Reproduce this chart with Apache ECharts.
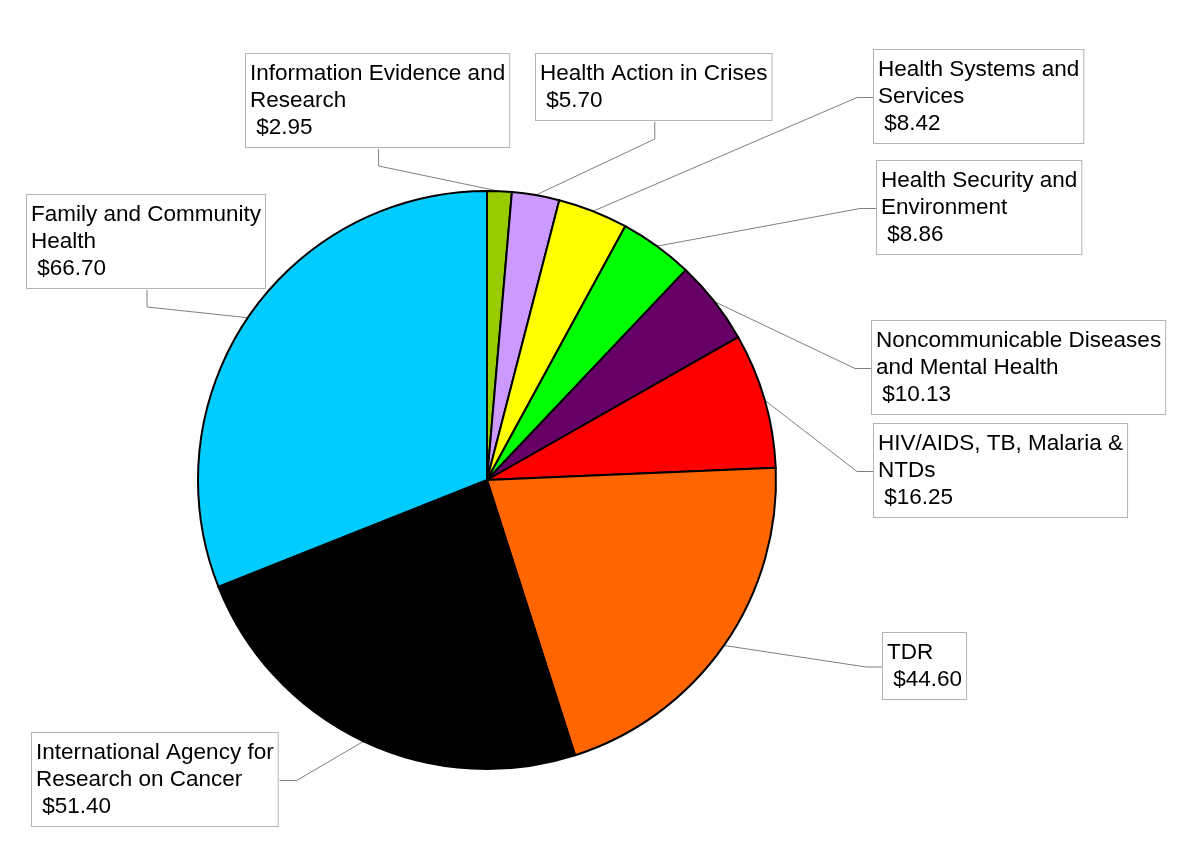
<!DOCTYPE html>
<html>
<head>
<meta charset="utf-8">
<script src="https://cdn.jsdelivr.net/npm/echarts@6/dist/echarts.min.js"></script>
<style>
html,body{margin:0;padding:0;background:#ffffff;}
#chart{width:1200px;height:857px;}
</style>
</head>
<body>
<div id="chart"></div>
<script>
// ---- data ----
const categories = [
  'Information Evidence and\nResearch',
  'Health Action in Crises',
  'Health Systems and\nServices',
  'Health Security and\nEnvironment',
  'Noncommunicable Diseases\nand Mental Health',
  'HIV/AIDS, TB, Malaria &\nNTDs',
  'TDR',
  'International Agency for\nResearch on Cancer',
  'Family and Community\nHealth'
];
const values = [2.95, 5.70, 8.42, 8.86, 10.13, 16.25, 44.60, 51.40, 66.70];

// ---- styles / layout ----
const colors = ['#99CC00', '#CC99FF', '#FFFF00', '#00FF00', '#660066', '#FF0000', '#FF6600', '#000000', '#00CCFF'];
// label box top-left and the box side the leader line leaves from
const labelBoxes = [
  [246, 54, 'bottom'],
  [536, 54, 'bottom'],
  [874, 50, 'left'],
  [877, 161, 'left'],
  [872, 321, 'left'],
  [874, 424, 'left'],
  [883, 633, 'left'],
  [32, 733, 'right'],
  [27, 195, 'bottom']
];
const CX = 487, CY = 480, R = 289, ELBOW = 17;

const total = values.reduce((a, b) => a + b, 0);

const chart = echarts.init(document.getElementById('chart'), null, {renderer: 'canvas'});
chart.setOption({
  animation: false,
  backgroundColor: '#ffffff',
  series: [{
    type: 'pie',
    center: [CX, CY],
    radius: R,
    startAngle: 90,
    clockwise: true,
    avoidLabelOverlap: false,
    silent: true,
    data: categories.map((c, i) => ({
      name: c,
      value: values[i],
      itemStyle: {color: colors[i]}
    })),
    itemStyle: {borderColor: '#000000', borderWidth: 2},
    emphasis: {disabled: true},
    label: {
      show: true,
      position: 'outside',
      formatter: p => p.name + '\n $' + p.value.toFixed(2),
      fontFamily: 'Liberation Sans, Arial, sans-serif',
      fontSize: 22.5,
      lineHeight: 27,
      color: '#000000',
      align: 'left',
      backgroundColor: '#ffffff',
      borderColor: '#b3b3b3',
      borderWidth: 1,
      padding: [6, 4, 6, 4]
    },
    labelLine: {
      show: true,
      lineStyle: {color: '#808080', width: 1}
    },
    labelLayout: function (p) {
      const i = p.dataIndex;
      const b = labelBoxes[i];
      const w = p.labelRect.width, h = p.labelRect.height;
      const x = b[0], y = b[1];
      let before = 0;
      for (let k = 0; k < i; k++) before += values[k];
      const mid = (before + values[i] / 2) / total * 2 * Math.PI;
      const ax = CX + R * Math.sin(mid), ay = CY - R * Math.cos(mid);
      let ex, ey, px, py;
      if (b[2] === 'bottom') { ex = x + w / 2; ey = y + h; px = ex; py = ey + ELBOW; }
      else if (b[2] === 'left') { ex = x; ey = y + h / 2; px = ex - ELBOW; py = ey; }
      else { ex = x + w; ey = y + h / 2; px = ex + ELBOW; py = ey; }
      return {
        x: x, y: y, align: 'left', verticalAlign: 'top',
        labelLinePoints: [[ax, ay], [px, py], [ex, ey]]
      };
    }
  }]
});
</script>
</body>
</html>
